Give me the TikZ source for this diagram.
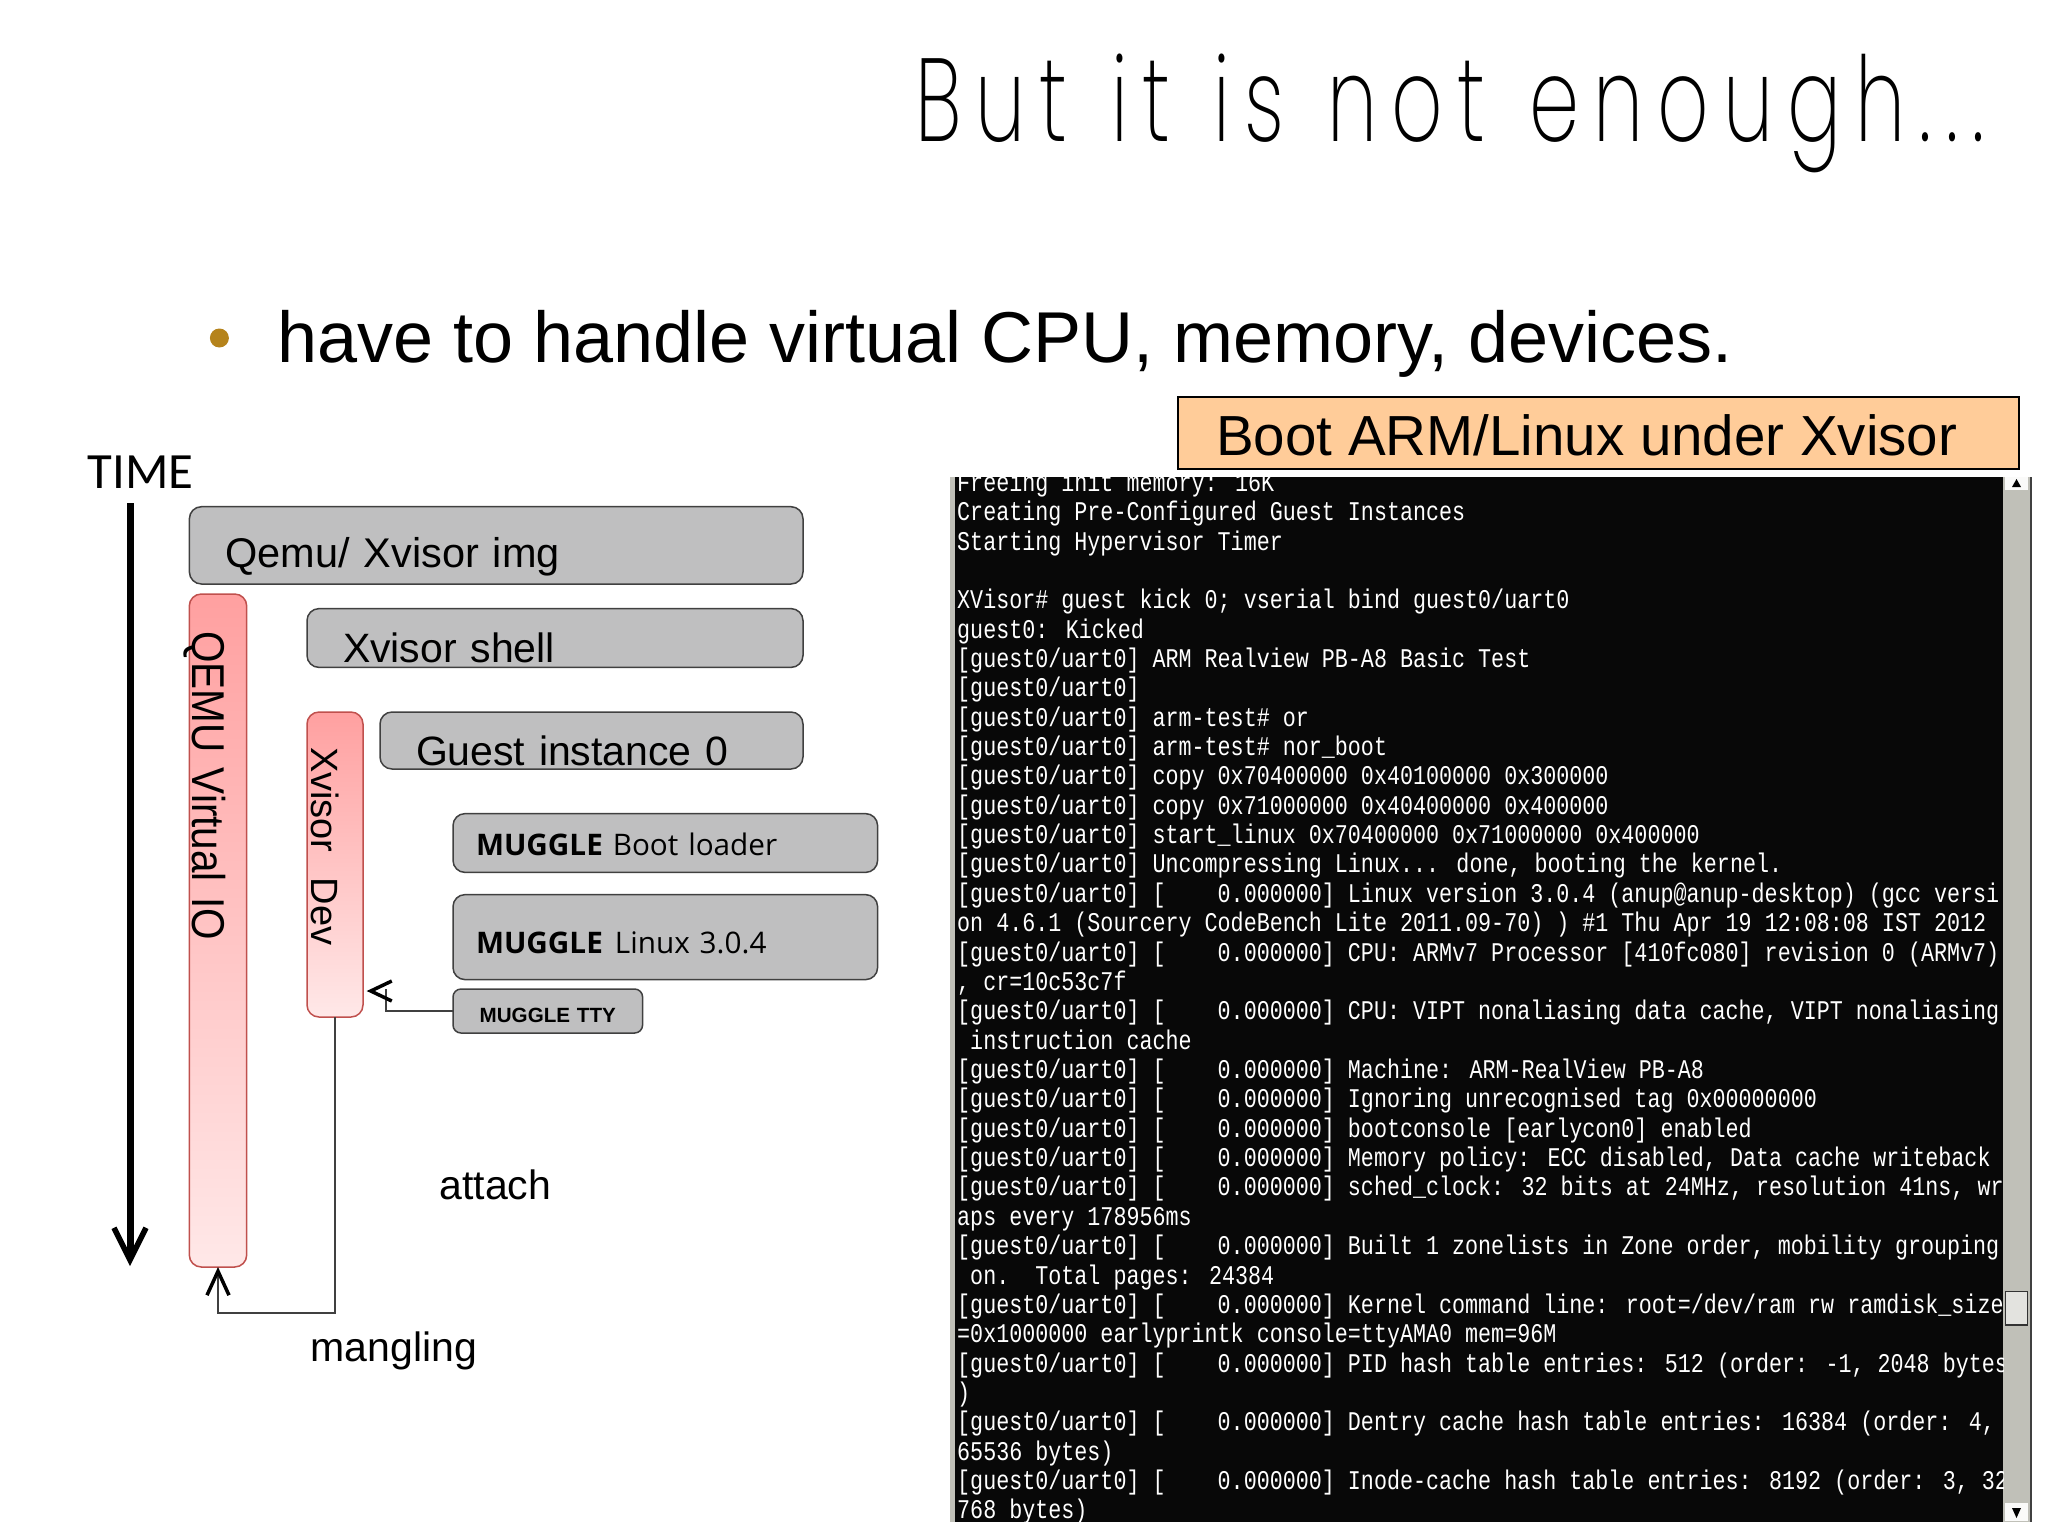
\documentclass[tikz,border=0pt]{standalone}
\usepackage{fontspec}
\usepackage{xcolor}
\usetikzlibrary{arrows.meta}
\setmainfont{Liberation Sans}
\newfontfamily\titlefont[LetterSpace=12,FakeStretch=0.68,WordSpace=1.18]{Poppins ExtraLight}
\newfontfamily\mugglefont{Open Sans}
\newfontfamily\timefont{Carlito}
\newfontfamily\tallfont[FakeStretch=0.88]{Liberation Sans}
\newfontfamily\termfont[FakeStretch=0.804]{Liberation Mono}
\definecolor{grayfill}{HTML}{BFBFC0}
\definecolor{grayline}{HTML}{404040}
\definecolor{pinktop}{HTML}{FFA0A0}
\definecolor{pinkbot}{HTML}{FFE8E8}
\definecolor{pinkline}{HTML}{C0504D}
\definecolor{bootfill}{HTML}{FFCC99}
\definecolor{bulletcol}{HTML}{B5831B}
\definecolor{barcol}{HTML}{C0C0B8}
\newcommand{\droptext}[2]{\raisebox{#1}[0pt][0pt]{#2}}
\newcommand{\uart}{[guest0/uart0]}
\newcommand{\stamp}{[guest0/uart0] [\ \ \ \ 0.000000]}
\tikzset{
  graybox/.style 2 args={draw=grayline,fill=grayfill,line width=1.5pt,rounded corners=12pt,
    anchor=north west,text width=#1,minimum height=#2,inner xsep=36pt,inner ysep=0pt,
    outer sep=0pt,align=left,font=\fontsize{41}{50}\selectfont},
  mugglebox/.style 2 args={graybox={#1}{#2},inner xsep=23pt,font=\mugglefont\fontsize{29.7}{36}\selectfont},
  pinkbox/.style 2 args={draw=pinkline,line width=1.5pt,rounded corners=12pt,rotate=-90,
    top color=pinktop,bottom color=pinkbot,text width=#1,minimum height=#2,
    inner xsep=37pt,inner ysep=0pt,outer sep=0pt,align=left,font=\tallfont\fontsize{46}{50}\selectfont},
  freetext/.style={anchor=base west,inner sep=0pt,font=\fontsize{41}{50}\selectfont},
  backtip/.style={-{Straight Barb[length=21pt,width=20pt,line width=3.5pt]}}
}
\begin{document}
\begin{tikzpicture}[x=1pt,y=-1pt]
\useasboundingbox (0,0) rectangle (2048,1535);

\node[anchor=base west,inner sep=0pt,font=\titlefont\fontsize{118}{130}\selectfont] (heading) at (915,141) {But it is not enough...};
\node[circle,fill=bulletcol,minimum size=19pt,inner sep=0pt] (bullet) at (219.4,338) {};
\node[anchor=base west,inner sep=0pt,font=\fontsize{72}{80}\selectfont] (subline) at (277,362) {have to handle virtual CPU, memory, devices.};

% left side
\node[freetext,font=\timefont\fontsize{50.8}{60}\selectfont] (timelabel) at (87.5,488) {TIME};
\coordinate (timetop) at (130,503);
\coordinate (timeend) at (130,1266);
\draw[line width=7pt,-{Straight Barb[length=32pt,width=32pt,line width=5.5pt]}] (timetop) -- (timeend);

\node[graybox={541.6pt}{77.3pt},font=\fontsize{41.5}{50}\selectfont] (qemuimg) at (189.4,506.7) {\droptext{-22.5pt}{Qemu/ Xvisor img}};
\node[graybox={424pt}{58.8pt}] (xvisorshell) at (307,608.6) {\droptext{-24.5pt}{Xvisor shell}};
\node[graybox={351pt}{57pt}] (guestinst) at (380,712) {\droptext{-25pt}{Guest instance 0}};
\node[mugglebox={378.6pt}{58.8pt}] (muggleboot) at (453,813.6) {\droptext{-12pt}{\textbf{MUGGLE} Boot loader}};
\node[mugglebox={378.6pt}{85pt}] (mugglelinux) at (453,894.6) {\droptext{-16.5pt}{\textbf{MUGGLE}\hspace{12pt}Linux 3.0.4}};
\node[graybox={189.6pt}{44pt},rounded corners=8pt,inner xsep=0pt,align=center,font=\bfseries\fontsize{20.6}{25}\selectfont] (muggletty) at (453,989) {\droptext{-11pt}{MUGGLE TTY}};

\node[pinkbox={599pt}{57.4pt}] (qemuvirt) at (218,930.5) {\droptext{-26pt}{QEMU Virtual IO}};
\node[pinkbox={235pt}{56pt},inner xsep=35pt,font=\fontsize{38}{46}\selectfont] (xvisordev) at (335,864.5) {\droptext{-24pt}{Xvisor\ \ Dev}};

\coordinate (ttybend) at (385.7,989);
\coordinate (ttyend) at (366.7,991);
\draw[line width=2pt,grayline] (muggletty.west) -| (ttybend);
\draw[line width=2pt,backtip,shorten <=18pt] (ttybend |- ttyend) -- (ttyend);
\draw[line width=2pt,grayline,-{Straight Barb[length=24pt,width=22pt,line width=3.5pt,color=black]}] (xvisordev.east) -- ++(0,295.5) -| (qemuvirt.east);

\node[freetext] (attachlabel) at (439.4,1199.5) {attach};
\node[freetext] (manglinglabel) at (310.4,1361.5) {mangling};

% right side
\node[draw=black,line width=2pt,fill=bootfill,anchor=north west,minimum width=841pt,minimum height=72pt,inner sep=0pt] (boothead) at (1176.7,395.7) {};
\node[anchor=base west,inner sep=0pt,font=\fontsize{56.5}{66}\selectfont] (boottext) at (1216,455) {Boot ARM/Linux under Xvisor};

\fill[barcol] (950,476.7) rectangle (2030,1521.5);
\fill[grayline] (2030,476.7) rectangle (2032,1521.5);
\fill[black!97] (955,476.7) rectangle (2003,1521.5);
\fill[white!92!barcol] (2005,477) rectangle (2028,490);
\draw[line width=1.5pt,black!80] (2006,1291.7) rectangle (2027.7,1325);
\fill[white!55!barcol] (2006,1291.7) rectangle (2027,1324);
\fill[white!92!barcol] (2005,1503) rectangle (2028,1521);
\fill[black] (2016.5,479) -- (2021,487) -- (2012,487) -- cycle;
\fill[black] (2016.5,1518) -- (2021,1508) -- (2012,1508) -- cycle;

\begin{scope}
\clip (955,476.7) rectangle (2003,1521.5);
\node[anchor=north west,inner sep=0pt,align=left,text=white,font=\termfont\fontsize{27}{29.36}\selectfont] (termlog) at (957,471.5) {%
Freeing init memory: 16K\\
Creating Pre-Configured Guest Instances\\
Starting Hypervisor Timer\\
\ \\
XVisor\# guest kick 0; vserial bind guest0/uart0\\
guest0: Kicked\\
\uart\ ARM Realview PB-A8 Basic Test\\
\uart\\
\uart\ arm-test\# or\\
\uart\ arm-test\# nor\_boot\\
\uart\ copy 0x70400000 0x40100000 0x300000\\
\uart\ copy 0x71000000 0x40400000 0x400000\\
\uart\ start\_linux 0x70400000 0x71000000 0x400000\\
\uart\ Uncompressing Linux... done, booting the kernel.\\
\stamp\ Linux version 3.0.4 (anup@anup-desktop) (gcc versi\\
on 4.6.1 (Sourcery CodeBench Lite 2011.09-70) ) \#1 Thu Apr 19 12:08:08 IST 2012\\
\stamp\ CPU: ARMv7 Processor [410fc080] revision 0 (ARMv7)\\
, cr=10c53c7f\\
\stamp\ CPU: VIPT nonaliasing data cache, VIPT nonaliasing\\
\ instruction cache\\
\stamp\ Machine: ARM-RealView PB-A8\\
\stamp\ Ignoring unrecognised tag 0x00000000\\
\stamp\ bootconsole [earlycon0] enabled\\
\stamp\ Memory policy: ECC disabled, Data cache writeback\\
\stamp\ sched\_clock: 32 bits at 24MHz, resolution 41ns, wr\\
aps every 178956ms\\
\stamp\ Built 1 zonelists in Zone order, mobility grouping\\
\ on.\ \ Total pages: 24384\\
\stamp\ Kernel command line: root=/dev/ram rw ramdisk\_size\\
=0x1000000 earlyprintk console=ttyAMA0 mem=96M\\
\stamp\ PID hash table entries: 512 (order: -1, 2048 bytes\\
)\\
\stamp\ Dentry cache hash table entries: 16384 (order: 4,\\
65536 bytes)\\
\stamp\ Inode-cache hash table entries: 8192 (order: 3, 32\\
768 bytes)};
\end{scope}

\end{tikzpicture}
\end{document}
